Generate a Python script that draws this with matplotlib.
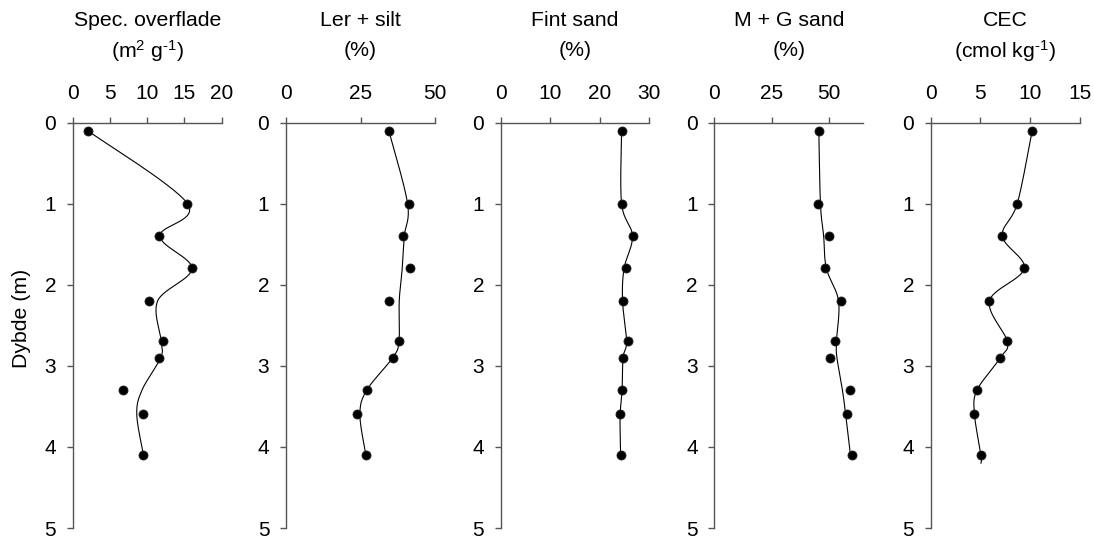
import numpy as np
import matplotlib
matplotlib.use('Agg')
import matplotlib.pyplot as plt

plt.rcParams['font.family'] = ['Liberation Sans', 'DejaVu Sans']
plt.rcParams['mathtext.default'] = 'regular'

# dybder (m) for proverne
depth = [0.1, 1.0, 1.4, 1.8, 2.2, 2.7, 2.9, 3.3, 3.6, 4.1]

spec = [2.0, 15.4, 11.6, 16.0, 10.3, 12.1, 11.6, 6.8, 9.4, 9.5]
lersilt = [34.5, 41.2, 39.1, 41.7, 34.7, 37.9, 35.8, 27.1, 23.7, 26.8]
fintsand = [24.4, 24.5, 26.8, 25.2, 24.7, 25.6, 24.7, 24.5, 24.1, 24.2]
mgsand = [45.5, 45.4, 49.9, 48.3, 55.4, 52.5, 50.4, 59.1, 57.8, 60.1]
cec = [10.2, 8.7, 7.2, 9.4, 5.9, 7.7, 7.0, 4.65, 4.4, 5.05]

# udglattede kurver aflaest fra figuren
spec_fit = [2.0, 15.4, 11.7, 16.0, 11.4, 11.9, 11.8, 9.3, 8.6, 9.5]
lersilt_fit = [34.5, 40.8, 39.7, 39.0, 38.0, 37.9, 35.8, 27.1, 24.8, 26.8]
fintsand_fit = [24.4, 24.4, 26.6, 24.9, 24.6, 25.4, 24.7, 24.5, 24.1, 24.2]
mgsand_fit = [45.6, 46.3, 47.7, 48.9, 54.2, 53.3, 53.5, 55.9, 57.3, 59.4]
cec_fit_depth = [0.1, 1.0, 1.4, 1.8, 2.2, 2.7, 2.9, 3.3, 3.6, 4.1, 4.2]
cec_fit = [10.2, 8.7, 7.2, 9.4, 5.9, 7.7, 7.0, 4.65, 4.4, 5.05, 5.05]

titles = ['Spec. overflade', 'Ler + silt', 'Fint sand', 'M + G sand', 'CEC']
units = ['(m$^2$ g$^{\u20101}$)', '(%)', '(%)', '(%)', '(cmol kg$^{\u20101}$)']
xmax = [20, 50, 30, 65, 15]
xticks = [[0, 5, 10, 15, 20], [0, 25, 50], [0, 10, 20, 30], [0, 25, 50], [0, 5, 10, 15]]

panels = [
    (spec, spec_fit, depth),
    (lersilt, lersilt_fit, depth),
    (fintsand, fintsand_fit, depth),
    (mgsand, mgsand_fit, depth),
    (cec, cec_fit, cec_fit_depth),
]


def smooth(ax, xs, ys, n=30):
    # excel-agtig udglatning (catmull-rom) i pixelrum
    P = ax.transData.transform(np.column_stack([xs, ys]))
    P = np.vstack([P[0], P, P[-1]])
    out = []
    t = np.linspace(0, 1, n)[:, None]
    for i in range(1, len(P) - 2):
        p0, p1, p2, p3 = P[i - 1], P[i], P[i + 1], P[i + 2]
        b1 = p1 + (p2 - p0) / 6
        b2 = p2 - (p3 - p1) / 6
        seg = ((1 - t) ** 3) * p1 + 3 * ((1 - t) ** 2) * t * b1 + 3 * (1 - t) * t ** 2 * b2 + t ** 3 * p2
        out.append(seg)
    out = np.vstack(out)
    return ax.transData.inverted().transform(out)


W, H = 1094, 549
fig = plt.figure(figsize=(W / 100, H / 100), dpi=100)

lefts = [72.7, 286, 500.7, 714.3, 930.7]
widths = [149, 149, 148.6, 149, 149.3]
top_px, bot_px = 122.5, 528

fs = 15
fs_title = 15.3
for i, (vals, fit, fdepth) in enumerate(panels):
    ax = fig.add_axes([lefts[i] / W, 1 - bot_px / H, widths[i] / W, (bot_px - top_px) / H])
    ax.set_xlim(0, xmax[i])
    ax.set_ylim(5, 0)
    ax.xaxis.tick_top()
    ax.set_xticks(xticks[i])
    ax.set_yticks([0, 1, 2, 3, 4, 5])
    for s in ['right', 'bottom']:
        ax.spines[s].set_visible(False)
    for s in ['left', 'top']:
        ax.spines[s].set_color('#555555')
        ax.spines[s].set_linewidth(1.0)
    ax.tick_params(axis='both', direction='out', length=4.5, width=1.0, color='#555555',
                   labelsize=fs, labelcolor='black')
    ax.tick_params(axis='x', pad=9.5)
    ax.tick_params(axis='y', pad=7.5)

    line = smooth(ax, fit, fdepth)
    ax.plot(line[:, 0], line[:, 1], color='black', lw=0.8, zorder=2)
    ax.plot(vals, depth, 'o', color='black', ms=6.5, mec='#222222', mew=0.6, zorder=3,
            clip_on=False)

    cx = (lefts[i] + widths[i] / 2) / W
    fig.text(cx, 1 - 21 / H, titles[i], ha='center', va='center', fontsize=fs_title)
    fig.text(cx, 1 - 51 / H, units[i], ha='center', va='center', fontsize=fs_title)

fig.text(22 / W, 1 - 318 / H, 'Dybde (m)', rotation=90, ha='center', va='center', fontsize=fs_title)

fig.savefig('out.png', dpi=100)
